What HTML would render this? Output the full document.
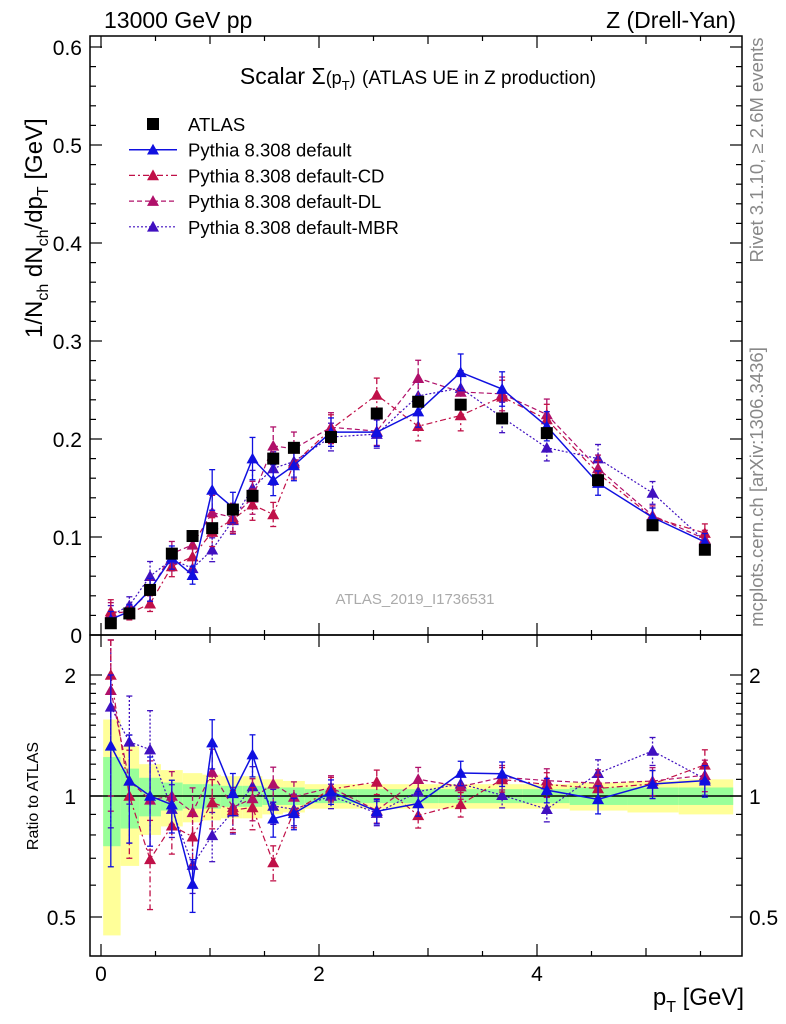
<!DOCTYPE html>
<html><head><meta charset="utf-8">
<style>
html,body{margin:0;padding:0;background:#fff;}
svg{display:block;font-family:"Liberation Sans",Arial,sans-serif;}
</style></head>
<body>
<svg id="chart" width="786" height="1024" viewBox="0 0 786 1024" xmlns="http://www.w3.org/2000/svg">
<g id="bands"></g>
<g id="marks"></g>
<g id="axes"></g>
<text x="104" y="28" font-size="23">13000 GeV pp</text>
<text x="736" y="28" font-size="23" text-anchor="end">Z (Drell-Yan)</text>
<text x="418" y="84" font-size="23" text-anchor="middle">Scalar Σ<tspan font-size="18">(p</tspan><tspan font-size="13" dy="6">T</tspan><tspan font-size="18" dy="-6">)</tspan> <tspan font-size="19">(ATLAS UE in Z production)</tspan></text>
<text x="415" y="604" font-size="15" fill="#aaa" text-anchor="middle">ATLAS_2019_I1736531</text>
<text transform="translate(763,150) rotate(-90)" font-size="18.5" fill="#888" text-anchor="middle">Rivet 3.1.10, ≥ 2.6M events</text>
<text transform="translate(763,487) rotate(-90)" font-size="18.5" fill="#888" text-anchor="middle">mcplots.cern.ch [arXiv:1306.3436]</text>
<text transform="translate(42,338) rotate(-90)" font-size="24" text-anchor="start">1/N<tspan font-size="16" dy="6">ch</tspan><tspan dy="-6"> dN</tspan><tspan font-size="16" dy="6">ch</tspan><tspan dy="-6">/dp</tspan><tspan font-size="16" dy="6">T</tspan><tspan dy="-6"> [GeV]</tspan></text>
<text transform="translate(38,796) rotate(-90)" font-size="16" text-anchor="middle">Ratio to ATLAS</text>
<text x="744" y="1005" font-size="24" text-anchor="end">p<tspan font-size="16" dy="7">T</tspan><tspan dy="-7"> [GeV]</tspan></text>
<g id="legend"></g>
</svg>
<script>
const binEdges=[0.02,0.18,0.35,0.55,0.75,0.93,1.1,1.3,1.48,1.67,1.87,2.35,2.72,3.1,3.5,3.87,4.3,4.83,5.3,5.8];
const binCenters=[0.09,0.26,0.45,0.65,0.84,1.02,1.21,1.39,1.58,1.77,2.11,2.53,2.91,3.30,3.68,4.09,4.56,5.06,5.54];
const atlasValues=[0.012,0.022,0.046,0.083,0.101,0.109,0.128,0.142,0.180,0.191,0.202,0.226,0.238,0.235,0.221,0.206,0.158,0.112,0.087];
const atlasRelErrInner=[0.25,0.17,0.11,0.08,0.07,0.07,0.06,0.06,0.05,0.05,0.04,0.04,0.04,0.04,0.04,0.04,0.05,0.05,0.05];
const atlasRelErrOuter=[0.55,0.33,0.2,0.16,0.14,0.13,0.12,0.12,0.1,0.09,0.07,0.07,0.07,0.07,0.07,0.07,0.08,0.09,0.1];
const defaultValues=[0.016,0.024,0.046,0.079,0.061,0.148,0.130,0.180,0.158,0.173,0.207,0.207,0.228,0.268,0.251,0.213,0.155,0.120,0.095];
const cdValues=[0.024,0.022,0.032,0.070,0.080,0.105,0.118,0.133,0.123,0.175,0.210,0.245,0.213,0.224,0.243,0.220,0.165,0.120,0.104];
const dlValues=[0.022,0.024,0.045,0.083,0.092,0.125,0.120,0.140,0.193,0.190,0.212,0.208,0.262,0.248,0.246,0.225,0.170,0.122,0.098];
const mbrValues=[0.020,0.030,0.060,0.077,0.068,0.087,0.117,0.150,0.170,0.177,0.202,0.205,0.244,0.252,0.222,0.191,0.180,0.145,0.096];
const modelRelErr=[0.5,0.3,0.25,0.15,0.15,0.14,0.12,0.12,0.1,0.09,0.07,0.07,0.07,0.07,0.07,0.07,0.08,0.08,0.09];
const mainYTicks=[0,0.1,0.2,0.3,0.4,0.5,0.6];
const mainYTickLabels=["0","0.1","0.2","0.3","0.4","0.5","0.6"];
const xTicks=[0,2,4];
const xTickLabels=["0","2","4"];
const ratioTicks=[0.5,1,2];
const ratioTickLabels=["0.5","1","2"];

const NS="http://www.w3.org/2000/svg";
const L=90,R=742,T=36,MB=635,RB=956;
const xs=v=>101+(v)*109;
const ys=v=>635-v*980;
const rs=v=>796-Math.log2(v)*121;
const rc=v=>Math.max(640,Math.min(952,rs(v)));
function mk(tag,attrs,parent){const e=document.createElementNS(NS,tag);for(const k in attrs)e.setAttribute(k,attrs[k]);parent.appendChild(e);return e;}
const bands=document.getElementById('bands'),marks=document.getElementById('marks'),axes=document.getElementById('axes'),legend=document.getElementById('legend');

binCenters.forEach((c,i)=>{
  const x0=xs(binEdges[i]),x1=xs(binEdges[i+1]);
  let e=mk('rect',{x:x0,y:rc(1+atlasRelErrOuter[i]),width:x1-x0,height:rc(1-atlasRelErrOuter[i])-rc(1+atlasRelErrOuter[i]),fill:'#ffff99'},bands);
  
  
  e=mk('rect',{x:x0,y:rc(1+atlasRelErrInner[i]),width:x1-x0,height:rc(1-atlasRelErrInner[i])-rc(1+atlasRelErrInner[i]),fill:'#99ff99'},bands);
  
  
});
let one=mk('line',{x1:L,x2:R,y1:rs(1),y2:rs(1),stroke:'#000','stroke-width':1.5},bands);



const series=[
 {name:'default',vals:defaultValues,color:'#1010e0',dash:'',w:1.5},
 {name:'default-cd',vals:cdValues,color:'#c01048',dash:'6,3,2,3',w:1.2},
 {name:'default-dl',vals:dlValues,color:'#b0106a',dash:'5,3',w:1.2},
 {name:'default-mbr',vals:mbrValues,color:'#4010c0',dash:'2,2',w:1.2}
];
function tri(g,x,y,color,nm){const s=6;const p=mk('polygon',{points:`${x},${y-s} ${x-s},${y+s*0.8} ${x+s},${y+s*0.8}`,fill:color},g);}
function errbar(g,x,y1,y2,color,dash){mk('line',{x1:x,x2:x,y1:y1,y2:y2,stroke:color,'stroke-width':1.3,'stroke-dasharray':dash},g);mk('line',{x1:x-3,x2:x+3,y1:y1,y2:y1,stroke:color,'stroke-width':1.3},g);mk('line',{x1:x-3,x2:x+3,y1:y2,y2:y2,stroke:color,'stroke-width':1.3},g);}

series.slice().reverse().forEach(s=>{
  const g=mk('g',{},marks);
  
  
  let pm=s.vals.map((v,i)=>xs(binCenters[i])+','+ys(v)).join(' ');
  mk('polyline',{points:pm,fill:'none',stroke:s.color,'stroke-width':s.w,'stroke-dasharray':s.dash},g);
  let pr=s.vals.map((v,i)=>xs(binCenters[i])+','+rc(v/atlasValues[i])).join(' ');
  mk('polyline',{points:pr,fill:'none',stroke:s.color,'stroke-width':s.w,'stroke-dasharray':s.dash},g);
  s.vals.forEach((v,i)=>{
    const x=xs(binCenters[i]),e=v*modelRelErr[i];
    errbar(g,x,ys(v+e),ys(Math.max(0,v-e)),s.color,s.dash);
    tri(g,x,ys(v),s.color,'point-'+s.name);
    const r=v/atlasValues[i],re=r*modelRelErr[i];
    errbar(g,x,rc(r+re),rc(Math.max(0.3,r-re)),s.color,s.dash);
    tri(g,x,rc(r),s.color,'ratio-point-'+s.name);
  });
});
const ga=mk('g',{},marks);


atlasValues.forEach((v,i)=>{
  const x=xs(binCenters[i]);
  const r=mk('rect',{x:x-6,y:ys(v)-6,width:12,height:12,fill:'#000'},ga);
  
  
});

[[T,MB],[MB,RB]].forEach(([a,b])=>mk('rect',{x:L,y:a,width:R-L,height:b-a,fill:'none',stroke:'#000','stroke-width':1.5},axes));
for(let v=0;v<=5.5;v+=0.5){
  const x=xs(v),big=Math.abs(v-Math.round(v/2)*2)<1e-6?12:(Math.abs(v-Math.round(v))<1e-6?8:5);
  [[T,1],[MB,-1],[MB,1],[RB,-1]].forEach(([y,d])=>mk('line',{x1:x,x2:x,y1:y,y2:y+d*big,stroke:'#000','stroke-width':1.2},axes));
}
xTicks.forEach((v,i)=>{const t=mk('text',{x:xs(v),y:981,'font-size':21,'text-anchor':'middle'},axes);t.textContent=xTickLabels[i];});
for(let v=0;v<=0.61;v+=0.02){const y=ys(v),big=Math.round(v*100)%10===0?12:6;mk('line',{x1:L,x2:L+big,y1:y,y2:y,stroke:'#000','stroke-width':1.2},axes);mk('line',{x1:R,x2:R-big,y1:y,y2:y,stroke:'#000','stroke-width':1.2},axes);}
mainYTicks.forEach((v,i)=>{const t=mk('text',{x:82,y:ys(v)+8,'font-size':21,'text-anchor':'end'},axes);t.textContent=mainYTickLabels[i];});
[0.5,0.6,0.7,0.8,0.9,1,1.1,1.2,1.3,1.4,1.5,1.6,1.7,1.8,1.9,2].forEach(v=>{const y=rs(v),big=ratioTicks.includes(v)?12:6;mk('line',{x1:L,x2:L+big,y1:y,y2:y,stroke:'#000','stroke-width':1.2},axes);mk('line',{x1:R,x2:R-big,y1:y,y2:y,stroke:'#000','stroke-width':1.2},axes);});
ratioTicks.forEach((v,i)=>{
  let t=mk('text',{x:76,y:rs(v)+8,'font-size':21,'text-anchor':'end'},axes);t.textContent=ratioTickLabels[i];
  t=mk('text',{x:749,y:rs(v)+8,'font-size':21},axes);t.textContent=ratioTickLabels[i];
});
const leg=[{lbl:'ATLAS',sq:true},{lbl:'Pythia 8.308 default',s:series[0]},{lbl:'Pythia 8.308 default-CD',s:series[1]},{lbl:'Pythia 8.308 default-DL',s:series[2]},{lbl:'Pythia 8.308 default-MBR',s:series[3]}];
leg.forEach((e,i)=>{
  const y=124+i*25.7;
  const g=mk('g',{},legend);
  
  
  if(e.sq){mk('rect',{x:147,y:y-6,width:12,height:12,fill:'#000'},g);}
  else{mk('line',{x1:129,x2:177,y1:y,y2:y,stroke:e.s.color,'stroke-width':e.s.w,'stroke-dasharray':e.s.dash},g);tri(g,153,y,e.s.color,'legend-marker');}
  const t=mk('text',{x:188,y:y+7,'font-size':18.5},g);t.textContent=e.lbl;
});
</script>
</body></html>
